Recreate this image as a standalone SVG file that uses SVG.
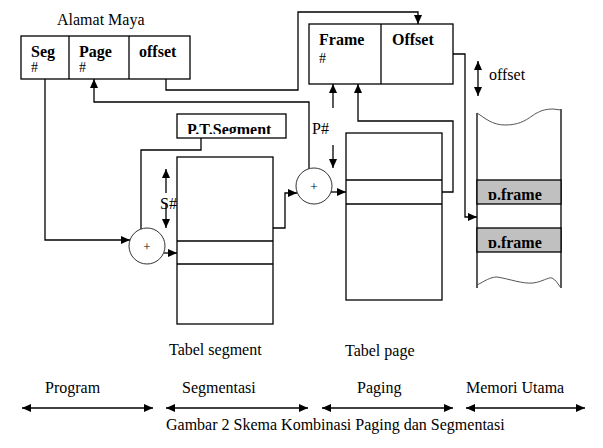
<svg xmlns="http://www.w3.org/2000/svg" width="603" height="448" viewBox="0 0 603 448">
<style>
text{font-family:"Liberation Serif","Times New Roman",serif;fill:#000}
.r{font-size:16px}
.b{font-size:16px;font-weight:bold}
.h{font-size:14px}
.box{fill:#fff;stroke:#000;stroke-width:1.3}
.gray{fill:#c0c0c0;stroke:#000;stroke-width:1.3}
.ln{fill:none;stroke:#000;stroke-width:1.3}
.c{fill:#fff;stroke:#333;stroke-width:1}
.w{fill:none;stroke:#555;stroke-width:1}
.a{marker-end:url(#ah)}
.d{marker-start:url(#ah);marker-end:url(#ah)}
</style>
<defs>
<marker id="ah" markerUnits="userSpaceOnUse" markerWidth="9" markerHeight="8" refX="9" refY="4" orient="auto-start-reverse" viewBox="0 0 9 8">
<path d="M0,0 L9,4 L0,8 z" fill="#000"/>
</marker>
<clipPath id="cpt"><rect x="177" y="114" width="109" height="20"/></clipPath>
<clipPath id="cpf1"><rect x="477" y="180" width="84" height="20"/></clipPath>
<clipPath id="cpf2"><rect x="477" y="228" width="84" height="20"/></clipPath>
</defs>
<rect width="603" height="448" fill="#fff"/>

<g id="connectors">
<path class="ln a" d="M45,79 V240 H130"/>
<path class="ln a" d="M166,79 V90 H298 V12 H418 V24"/>
<path class="ln a" d="M309,169 V102 H94 V79"/>
<path class="ln" d="M201,138 V150 H141 V229"/>
<path class="ln a" d="M164,253 H177"/>
<path class="ln a" d="M273,228 H285 V193 H297"/>
<path class="ln a" d="M331,192 H346"/>
<path class="ln a" d="M442,192 H453 V121 H358 V84"/>
<path class="ln a" d="M453,54 H465 V217 H477"/>
<path class="ln a" d="M166,193 V169"/>
<path class="ln a" d="M166,203 V228"/>
<path class="ln a" d="M333,108 V84"/>
<path class="ln a" d="M333,145 V168"/>
<path class="ln d" d="M478,61 V96"/>
<path class="ln d" d="M22,408 H153"/>
<path class="ln d" d="M166,408 H308"/>
<path class="ln d" d="M322,408 H453"/>
<path class="ln d" d="M466,408 H585"/>
</g>

<g id="alamat-maya">
<text class="r" x="57" y="25">Alamat Maya</text>
<rect class="box" x="21" y="36" width="169" height="43"/>
<line class="ln" x1="69" y1="36" x2="69" y2="79"/>
<line class="ln" x1="129" y1="36" x2="129" y2="79"/>
<text class="b" x="31" y="57">Seg</text>
<text class="h" x="31" y="72">#</text>
<text class="b" x="79" y="57">Page</text>
<text class="h" x="79" y="72">#</text>
<text class="b" x="139" y="57">offset</text>
</g>

<g id="frame-offset">
<rect class="box" x="309" y="24" width="144" height="60"/>
<line class="ln" x1="381" y1="24" x2="381" y2="84"/>
<text class="b" x="319" y="45">Frame</text>
<text class="h" x="319" y="63">#</text>
<text class="b" x="392" y="45">Offset</text>
</g>

<g id="pt-segment">
<rect class="box" x="177" y="114" width="109" height="24"/>
<text class="b" x="187" y="135" clip-path="url(#cpt)">P.T.Segment</text>
</g>

<g id="adder-1">
<circle class="c" cx="147" cy="246" r="18"/>
<text class="h" x="147" y="251" text-anchor="middle" style="font-size:13px">+</text>
</g>

<g id="adder-2">
<circle class="c" cx="314" cy="186" r="18"/>
<text class="h" x="314" y="191" text-anchor="middle" style="font-size:13px">+</text>
</g>

<g id="s-label">
<text class="r" x="160" y="209">S#</text>
</g>
<g id="p-label">
<text class="r" x="312" y="134">P#</text>
</g>

<g id="tabel-segment">
<rect class="box" x="177" y="157" width="96" height="167"/>
<line class="ln" x1="177" y1="241" x2="273" y2="241"/>
<line class="ln" x1="177" y1="264" x2="273" y2="264"/>
<text class="r" x="169" y="355">Tabel segment</text>
</g>

<g id="tabel-page">
<rect class="box" x="346" y="133" width="96" height="167"/>
<line class="ln" x1="346" y1="180" x2="442" y2="180"/>
<line class="ln" x1="346" y1="204" x2="442" y2="204"/>
<text class="r" x="345" y="356">Tabel page</text>
</g>

<g id="memori">
<line class="ln" x1="477" y1="113" x2="477" y2="288"/>
<line class="ln" x1="561" y1="109" x2="561" y2="288"/>
<path class="w" d="M477,113 C485,118 492,125 505,125 C518,125 525,121 532,116 C539,111 545,109 553,109 L561,110"/>
<path class="w" d="M477,285 C485,281 490,277 497,277 C510,279 522,284 533,283 C542,282 548,277 552,278 C556,280 558,284 561,288"/>
<rect class="gray" x="477" y="180" width="84" height="24"/>
<rect class="gray" x="477" y="228" width="84" height="24"/>
<text class="b" x="488" y="200" clip-path="url(#cpf1)">p.frame</text>
<text class="b" x="488" y="248" clip-path="url(#cpf2)">p.frame</text>
<text class="r" x="489" y="80">offset</text>
</g>

<g id="legend">
<text class="r" x="45" y="393">Program</text>
<text class="r" x="182" y="393">Segmentasi</text>
<text class="r" x="357" y="393">Paging</text>
<text class="r" x="466" y="393">Memori Utama</text>
<text class="r" x="166" y="430">Gambar 2 Skema Kombinasi Paging dan Segmentasi</text>
</g>
</svg>
